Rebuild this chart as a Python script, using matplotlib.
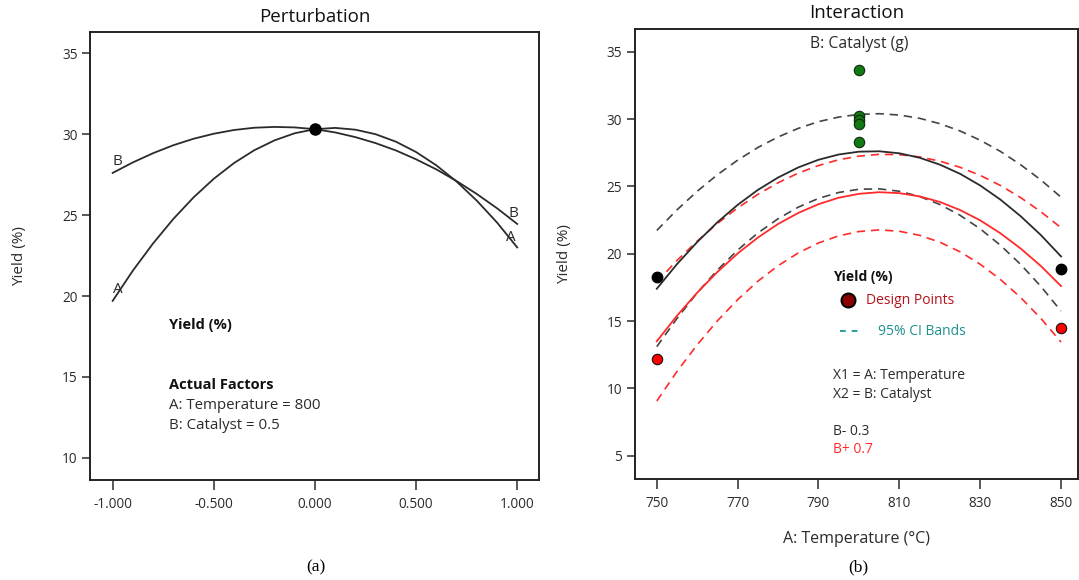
import matplotlib
matplotlib.use("Agg")
import matplotlib.pyplot as plt

plt.rcParams['font.family'] = ['Open Sans', 'DejaVu Sans']

# ---- perturbation data (coded factor levels) ----
dev = [-1.0, -0.9, -0.8, -0.7, -0.6, -0.5, -0.4, -0.3, -0.2, -0.1, 0.0,
       0.1, 0.2, 0.3, 0.4, 0.5, 0.6, 0.7, 0.8, 0.9, 1.0]
pert_A = [19.70, 21.57, 23.25, 24.76, 26.09, 27.24, 28.21, 29.00, 29.61, 30.05, 30.30,
          30.38, 30.27, 29.99, 29.53, 28.89, 28.07, 27.07, 25.89, 24.54, 23.00]
pert_B = [27.60, 28.25, 28.82, 29.31, 29.71, 30.02, 30.25, 30.39, 30.44, 30.41, 30.30,
          30.10, 29.81, 29.44, 28.99, 28.44, 27.82, 27.10, 26.30, 25.42, 24.45]
ref_point = (0.0, 30.3)

# ---- interaction data ----
temp = [750, 755, 760, 765, 770, 775, 780, 785, 790, 795, 800,
        805, 810, 815, 820, 825, 830, 835, 840, 845, 850]
lo_fit = [17.40, 19.23, 20.87, 22.34, 23.63, 24.74, 25.66, 26.41, 26.98, 27.37, 27.58,
          27.61, 27.46, 27.13, 26.62, 25.94, 25.07, 24.02, 22.79, 21.39, 19.80]
lo_upper = [21.73, 23.26, 24.64, 25.87, 26.95, 27.89, 28.67, 29.31, 29.81, 30.15, 30.35,
            30.40, 30.30, 30.06, 29.66, 29.12, 28.43, 27.60, 26.61, 25.48, 24.20]
lo_lower = [13.10, 15.20, 17.10, 18.79, 20.27, 21.54, 22.60, 23.46, 24.11, 24.55, 24.79,
            24.82, 24.64, 24.25, 23.66, 22.86, 21.85, 20.63, 19.21, 17.58, 15.74]
hi_fit = [13.50, 15.40, 17.11, 18.65, 20.02, 21.20, 22.21, 23.03, 23.68, 24.16, 24.45,
          24.57, 24.50, 24.26, 23.85, 23.25, 22.48, 21.52, 20.39, 19.09, 17.60]
hi_upper = [17.90, 19.50, 20.94, 22.25, 23.40, 24.41, 25.27, 25.99, 26.55, 26.98, 27.25,
            27.38, 27.36, 27.19, 26.88, 26.42, 25.82, 25.07, 24.17, 23.12, 21.93]
hi_lower = [9.06, 11.26, 13.24, 15.02, 16.59, 17.96, 19.11, 20.06, 20.80, 21.33, 21.65,
            21.77, 21.67, 21.37, 20.86, 20.15, 19.22, 18.09, 16.75, 15.20, 13.44]

center_temp = [800, 800, 800, 800, 800]
center_yield = [33.64, 30.25, 29.95, 29.64, 28.28]
lo_pts_temp = [750, 850]
lo_pts_yield = [18.26, 18.88]
hi_pts_temp = [750, 850]
hi_pts_yield = [12.22, 14.52]

dark = '#2b2b2b'
red = '#ff2a2a'

fig = plt.figure(figsize=(10.79, 5.80), dpi=100)
ax1 = fig.add_axes([0.0836, 0.1724, 0.4160, 0.7724])
ax2 = fig.add_axes([0.5881, 0.1741, 0.4110, 0.7759])

for ax in (ax1, ax2):
    for s in ax.spines.values():
        s.set_linewidth(1.4)
        s.set_color('#222222')
    ax.tick_params(axis='y', direction='out', length=6, width=1.1, pad=3,
                   labelsize=9.8, colors=dark)
    ax.tick_params(axis='x', direction='out', length=7.5, width=1.1, pad=5,
                   labelsize=9.8, colors=dark)
    ax.set_ylabel('Yield (%)', fontsize=11, color=dark, labelpad=25)

# ---- (a) perturbation ----
ax1.plot(dev, pert_A, color=dark, lw=1.3)
ax1.plot(dev, pert_B, color=dark, lw=1.3)
ax1.plot(*ref_point, 'o', color='black', ms=8)
ax1.text(-0.975, 20.4, 'A', fontsize=11, color=dark, ha='center', va='center')
ax1.text(-0.975, 28.3, 'B', fontsize=11, color=dark, ha='center', va='center')
ax1.text(0.968, 23.64, 'A', fontsize=11, color=dark, ha='center', va='center')
ax1.text(0.979, 25.12, 'B', fontsize=11, color=dark, ha='center', va='center')
ax1.set_xlim(-1.111, 1.108)
ax1.set_ylim(8.64, 36.3)
ax1.set_xticks([-1.0, -0.5, 0.0, 0.5, 1.0])
ax1.set_xticklabels(['-1.000', '-0.500', '0.000', '0.500', '1.000'])
ax1.set_yticks([10, 15, 20, 25, 30, 35])
ax1.set_title('Perturbation', fontsize=13.5, color='#111111', pad=7)

ax1.text(-0.72, 18.2, 'Yield (%)', fontsize=10.5, fontweight='bold', color='#111111', va='center')
ax1.text(-0.72, 14.5, 'Actual Factors', fontsize=10.5, fontweight='bold', color='#111111', va='center')
ax1.text(-0.72, 13.25, 'A: Temperature = 800', fontsize=10.8, color=dark, va='center')
ax1.text(-0.72, 12.0, 'B: Catalyst = 0.5', fontsize=10.8, color=dark, va='center')

# ---- (b) interaction ----
ax2.plot(temp, lo_upper, color='#444444', lw=1.2, ls=(0, (5, 3.5)))
ax2.plot(temp, lo_lower, color='#444444', lw=1.2, ls=(0, (5, 3.5)))
ax2.plot(temp, hi_upper, color=red, lw=1.2, ls=(0, (5, 3.5)))
ax2.plot(temp, hi_lower, color=red, lw=1.2, ls=(0, (5, 3.5)))
ax2.plot(temp, lo_fit, color=dark, lw=1.3)
ax2.plot(temp, hi_fit, color=red, lw=1.3)
ax2.plot(center_temp, center_yield, 'o', ms=7.5, mfc='#137a13', mec='#0a2a0a', mew=0.8)
ax2.plot(lo_pts_temp, lo_pts_yield, 'o', ms=7.5, mfc='black', mec='black')
ax2.plot(hi_pts_temp, hi_pts_yield, 'o', ms=7.5, mfc='#ff0000', mec='#111111', mew=0.8)

ax2.set_xlim(744.5, 854.2)
ax2.set_ylim(3.27, 36.69)
ax2.set_xticks([750, 770, 790, 810, 830, 850])
ax2.set_yticks([5, 10, 15, 20, 25, 30, 35])
ax2.set_title('Interaction', fontsize=13.5, color='#111111', pad=8)
ax2.set_xlabel('A: Temperature (°C)', fontsize=11.5, color=dark, labelpad=14)
ax2.text(800, 35.6, 'B: Catalyst (g)', fontsize=11.3, color=dark, ha='center', va='center')

ax2.text(793.5, 18.3, 'Yield (%)', fontsize=10, fontweight='bold', color='#111111', va='center')
ax2.plot([797.2], [16.55], 'o', ms=10, mfc='#8b0000', mec='black', mew=1.5)
ax2.text(801.7, 16.55, 'Design Points', fontsize=10, color='#b5121b', va='center')
ax2.plot([795.2, 800.3], [14.25, 14.25], color='#2a9d9d', lw=1.4, ls=(0, (3, 3)))
ax2.text(804.8, 14.25, '95% CI Bands', fontsize=10, color='#1f8f8f', va='center')
ax2.text(793.5, 10.95, 'X1 = A: Temperature', fontsize=10, color=dark, va='center')
ax2.text(793.5, 9.55, 'X2 = B: Catalyst', fontsize=10, color=dark, va='center')
ax2.text(793.5, 6.8, 'B- 0.3', fontsize=10, color=dark, va='center')
ax2.text(793.5, 5.45, 'B+ 0.7', fontsize=10, color=red, va='center')

# panel captions
fig.text(316 / 1079, 1 - 567 / 580, '(a)', fontsize=12.5, family='Liberation Serif',
         ha='center', va='center')
fig.text(858 / 1079, 1 - 567 / 580, '(b)', fontsize=12.5, family='Liberation Serif',
         ha='center', va='center')

fig.savefig('out.png', dpi=100, facecolor='white')
